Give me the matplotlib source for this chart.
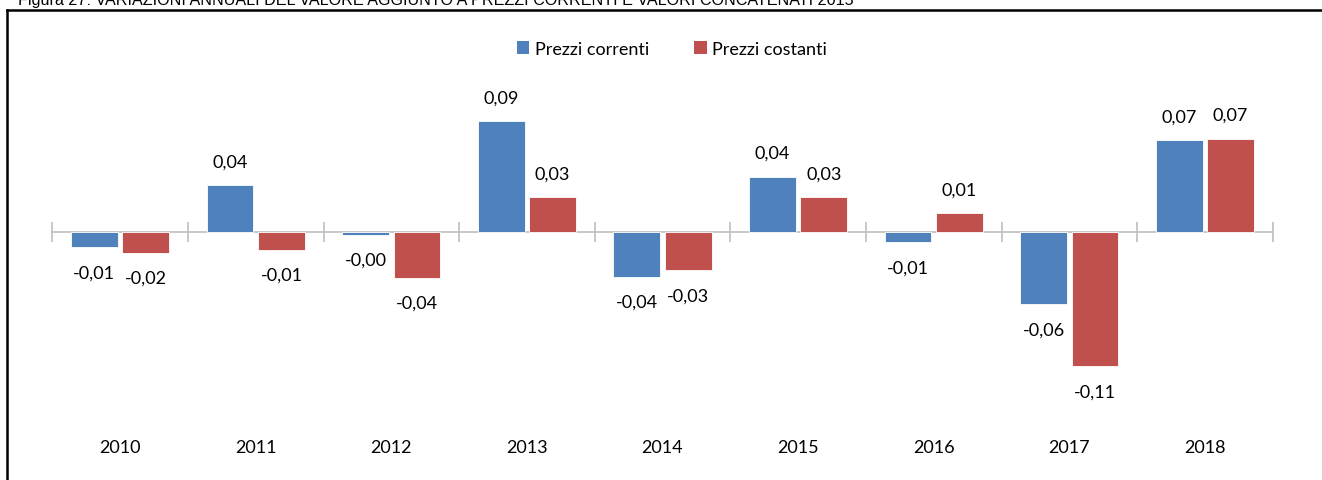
import numpy as np
import matplotlib
matplotlib.use('Agg')
import matplotlib.pyplot as plt
from matplotlib.lines import Line2D
from matplotlib.patches import Patch

years = ['2010', '2011', '2012', '2013', '2014', '2015', '2016', '2017', '2018']
prezzi_correnti = [-0.012, 0.037, -0.002, 0.088, -0.035, 0.044, -0.008, -0.057, 0.073]
prezzi_costanti = [-0.016, -0.014, -0.036, 0.028, -0.030, 0.028, 0.0149, -0.106, 0.074]
series_names = ['Prezzi correnti', 'Prezzi costanti']
title = 'Figura 27: VARIAZIONI ANNUALI DEL VALORE AGGIUNTO A PREZZI CORRENTI E VALORI CONCATENATI 2015'

blue = '#4F81BD'
red = '#C0504D'
grey = '#BFBFBF'

plt.rcParams['font.family'] = ['Lato', 'DejaVu Sans']
W, H = 1322, 481
fig = plt.figure(figsize=(W / 100, H / 100), dpi=100)
fig.patch.set_facecolor('white')

# axes placed in pixel terms of the reference
left, right = 52.3, 1272.7
top, bottom = 81.5, 410.4
ax = fig.add_axes([left / W, 1 - bottom / H, (right - left) / W, (bottom - top) / H])
ax.set_xlim(-0.5, len(years) - 0.5)
ax.set_ylim(-0.14, 0.12)

x = np.arange(len(years))
w = 0.345
off = 0.19
b1 = ax.bar(x - off, prezzi_correnti, w, color=blue, edgecolor='white', linewidth=0.6, zorder=3)
b2 = ax.bar(x + off, prezzi_costanti, w, color=red, edgecolor='white', linewidth=0.6, zorder=3)

fs = 13

def fmt(v):
    return f'{v:.2f}'.replace('.', ',')

for bars, vals in ((b1, prezzi_correnti), (b2, prezzi_costanti)):
    for rect, v in zip(bars, vals):
        cx = rect.get_x() + rect.get_width() / 2
        dy = 17 if v >= 0 else -18
        ax.annotate(fmt(v), (cx, v), xytext=(0, dy), textcoords='offset points',
                    ha='center', va='center', fontsize=fs, color='black')

# horizontal category axis through zero
for s in ('top', 'right', 'left'):
    ax.spines[s].set_visible(False)
ax.spines['bottom'].set_position(('data', 0))
ax.spines['bottom'].set_color(grey)
ax.spines['bottom'].set_linewidth(1.2)
ax.spines['bottom'].set_zorder(2)
ax.set_yticks([])
ax.set_xticks(x)
ax.set_xticks(np.arange(-0.5, len(years)), minor=True)
ax.tick_params(axis='x', which='major', length=0, labelbottom=False)
ax.tick_params(axis='x', which='minor', direction='inout', length=14, width=1.2, color=grey)
for xi, yr in zip(x, years):
    ax.text(xi, 1 - (448 - top) / (bottom - top), yr, transform=ax.get_xaxis_transform(),
            ha='center', va='center', fontsize=fs, color='black')

handles = [Patch(facecolor=blue), Patch(facecolor=red)]
fig.legend(handles, series_names, loc='center', bbox_to_anchor=(672 / W, 1 - 50 / H),
           ncol=2, frameon=False, fontsize=fs, handlelength=0.7, handleheight=0.7,
           handletextpad=0.3, columnspacing=2.5)

# outer frame (partly cut off) and clipped title
fig.add_artist(Line2D([7 / W, 1.0], [1 - 10.5 / H, 1 - 10.5 / H], color='black', lw=1.8,
                      transform=fig.transFigure))
fig.add_artist(Line2D([7 / W, 7 / W], [1 - 10.5 / H, 0.0], color='black', lw=1.8,
                      transform=fig.transFigure))
fig.text(18 / W, 1 - 5 / H, title, family='Liberation Sans', fontsize=11.6,
         va='baseline', ha='left', color='black')

fig.savefig('out.png', dpi=100)
